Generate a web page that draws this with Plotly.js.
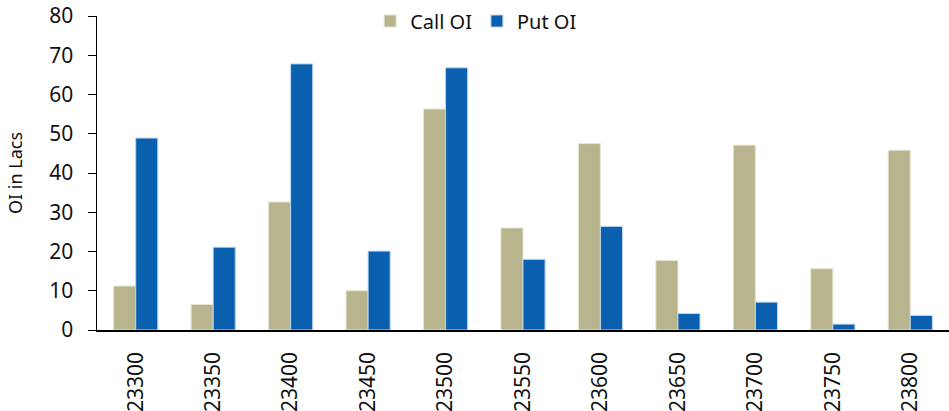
<!DOCTYPE html>
<html>
<head>
<meta charset="utf-8">
<script src="https://cdn.plot.ly/plotly-3.0.1.min.js"></script>
<style>html,body{margin:0;padding:0;background:#fff;}#chart{width:949px;height:411px;}</style>
</head>
<body>
<div id="chart"></div>
<script>
var strikes = ["23300","23350","23400","23450","23500","23550","23600","23650","23700","23750","23800"];
var callOI = [11.2, 6.5, 32.6, 10.0, 56.3, 26.0, 47.5, 17.7, 47.1, 15.6, 45.8];
var putOI  = [48.9, 21.1, 67.8, 20.1, 66.8, 18.0, 26.4, 4.2, 7.1, 1.5, 3.7];
var yTicks = [0,10,20,30,40,50,60,70,80];

var traces = [
  {type:'bar', name:'Call OI', x:strikes, y:callOI,
   marker:{color:'#B8B58E', line:{color:'#E6E4D2', width:1}}},
  {type:'bar', name:'Put OI', x:strikes, y:putOI,
   marker:{color:'#0A5FAF', line:{color:'#BFD4EA', width:1}}}
];
var layout = {
  width:949, height:411,
  margin:{l:97, r:0, t:16, b:81},
  paper_bgcolor:'#fff', plot_bgcolor:'#fff',
  font:{family:'"Noto Sans", sans-serif', color:'#111', size:20},
  barmode:'group', bargap:0.43, bargroupgap:0,
  showlegend:true,
  legend:{orientation:'h', x:0.445, xanchor:'center', y:0.984, yanchor:'middle',
          font:{size:20, family:'"Noto Sans", sans-serif'}, bgcolor:'rgba(0,0,0,0)', itemwidth:30},
  xaxis:{type:'category', tickangle:-90, showline:true, linecolor:'#000', linewidth:1.5,
         ticks:'', showgrid:false, zeroline:false, ticklabelstandoff:12, automargin:false,
         tickfont:{size:21, family:'"Noto Sans", sans-serif', color:'#111'}},
  yaxis:{range:[0,80], tickvals:yTicks, ticktext:yTicks.map(String), showline:true, linecolor:'#000', linewidth:1.5,
         ticks:'outside', ticklen:8, tickcolor:'#000', showgrid:false, zeroline:false, ticklabelstandoff:10, automargin:false,
         tickfont:{size:21, family:'"Noto Sans", sans-serif', color:'#111'},
         title:{text:'OI in Lacs', font:{size:18, family:'"Noto Sans", sans-serif', color:'#111'}, standoff:22}}
};
Plotly.newPlot('chart', traces, layout, {displayModeBar:false, staticPlot:true});
</script>
</body>
</html>
